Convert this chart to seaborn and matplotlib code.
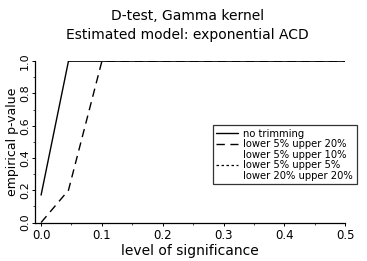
import matplotlib
matplotlib.use("Agg")
import matplotlib.pyplot as plt
import pandas as pd
import seaborn as sns

sns.set_style("ticks")
plt.rcParams['font.family'] = ['DejaVu Sans']
plt.rcParams['text.color'] = 'black'
plt.rcParams['axes.labelcolor'] = 'black'
plt.rcParams['xtick.color'] = 'black'
plt.rcParams['ytick.color'] = 'black'
plt.rcParams['axes.edgecolor'] = 'black'

# level of significance grid and empirical p-values per trimming
alpha = [0.0, 0.045, 0.1, 0.5]
no_trim = [0.17, 1.0, 1.0, 1.0]
l5_u20 = [0.0, 0.2, 1.0, 1.0]
l5_u10 = [0.0, 0.2, 1.0, 1.0]
l5_u5 = [0.17, 1.0, 1.0, 1.0]
l20_u20 = [0.0, 0.2, 1.0, 1.0]
series_names = ["no trimming", "lower 5% upper 20%", "lower 5% upper 10%",
                "lower 5% upper 5%", "lower 20% upper 20%"]

rows = []
for name, vals in zip(series_names, [no_trim, l5_u20, l5_u10, l5_u5, l20_u20]):
    for a, v in zip(alpha, vals):
        rows.append({"alpha": a, "p": v, "trim": name})
df = pd.DataFrame(rows)

fig = plt.figure(figsize=(3.67, 2.61), dpi=100)
ax = fig.add_axes([0.0954, 0.1456, 0.845, 0.62])

# (linestyle, linewidth, visible in plot, visible in legend)
styles = {
    "no trimming": ("-", 1.0, True, True),
    "lower 5% upper 20%": ((0, (6, 4)), 1.0, True, True),
    "lower 5% upper 10%": ((0, (1, 6)), 0.4, False, False),
    "lower 5% upper 5%": ((0, (2, 2)), 0.9, False, True),
    "lower 20% upper 20%": ((0, (1, 6)), 0.4, False, False),
}
handles = []
for name in series_names:
    ls, lw, show, show_leg = styles[name]
    sub = df[df.trim == name]
    sns.lineplot(data=sub, x="alpha", y="p", ax=ax, color="black",
                 linestyle=ls, lw=lw, alpha=1.0 if show else 0.0, legend=False)
    h, = ax.plot([], [], color="black", linestyle=ls, lw=lw,
                 alpha=1.0 if show_leg else 0.0)
    handles.append(h)

ax.set_xlim(-0.01, 0.5)
ax.set_ylim(-0.003, 1.0)
ax.set_xticks([0.0, 0.1, 0.2, 0.3, 0.4, 0.5])
ax.set_yticks([0.0, 0.2, 0.4, 0.6, 0.8, 1.0])
ax.set_xticks([0.05, 0.15, 0.25, 0.35, 0.45], minor=True)
ax.set_yticks([0.1, 0.3, 0.5, 0.7, 0.9], minor=True)
ax.tick_params(labelsize=8.5, length=2.5, width=0.7, direction="out", pad=1.5)
ax.tick_params(axis="y", labelsize=8, pad=1)
ax.tick_params(which="minor", length=1.5, width=0.5)
for lab in ax.get_yticklabels():
    lab.set_rotation(90)
    lab.set_va("center")
sns.despine(ax=ax)
for s in ["left", "bottom"]:
    ax.spines[s].set_linewidth(0.9)

ax.set_xlabel("level of significance", fontsize=10, labelpad=2)
ax.set_ylabel("empirical p-value", fontsize=9, labelpad=1)
fig.text(0.51, 0.938, "D-test, Gamma kernel", ha="center", va="center", fontsize=10)
fig.text(0.51, 0.866, "Estimated model: exponential ACD", ha="center", va="center", fontsize=10)

leg = ax.legend(handles, series_names, loc="upper left",
                bbox_to_anchor=(0.58, 0.521), bbox_transform=fig.transFigure,
                fontsize=7.2, frameon=True, fancybox=False, edgecolor="black",
                handlelength=2.2, handletextpad=0.5, labelspacing=0.05,
                borderpad=0.35, borderaxespad=0.0)
leg.get_frame().set_linewidth(0.9)

fig.savefig("out.png", dpi=100)
